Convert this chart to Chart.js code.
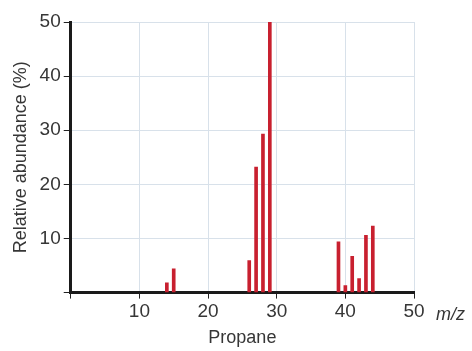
<!DOCTYPE html>
<html>
<head>
<meta charset="utf-8">
<script src="https://cdn.jsdelivr.net/npm/chart.js@4.4.1/dist/chart.umd.min.js"></script>
<style>
  html, body { margin: 0; padding: 0; background: #fff; }
  #wrap { width: 472px; height: 351px; position: relative; }
</style>
</head>
<body>
<div id="wrap"><canvas id="c" width="472" height="351"></canvas></div>
<script>
// Mass spectrum of propane: m/z positions and relative abundances (%)
const massToCharge = [14, 15, 26, 27, 28, 29, 39, 40, 41, 42, 43, 44];
const abundance    = [1.8, 4.4, 5.9, 23.2, 29.3, 50, 9.4, 1.3, 6.7, 2.6, 10.6, 12.3];
const xTicks = [10, 20, 30, 40, 50];
const yTicks = [10, 20, 30, 40, 50];

const family = "'Liberation Sans', Arial, sans-serif";
const tickFont = { family, size: 19 };
const titleFont = { family, size: 18 };
const textColor = '#363636';
const gridColor = '#d8e1ea';

// "m/z" label to the right of the x axis
const unitLabel = {
  id: 'unitLabel',
  afterDraw(chart) {
    const { ctx, scales: { x } } = chart;
    ctx.save();
    ctx.font = "italic 18px " + family;
    ctx.fillStyle = textColor;
    ctx.textBaseline = 'middle';
    ctx.textAlign = 'left';
    ctx.fillText('m/z', x.right + 22, x.top + 22);
    ctx.restore();
  }
};

new Chart(document.getElementById('c'), {
  type: 'bar',
  data: {
    datasets: [{
      data: massToCharge.map((m, i) => ({ x: m, y: abundance[i] })),
      backgroundColor: '#c8202f',
      borderWidth: 0,
      barThickness: 3
    }]
  },
  options: {
    responsive: false,
    animation: false,
    layout: { padding: { left: 10, right: 58, top: 22, bottom: 2 } },
    plugins: { legend: { display: false }, tooltip: { enabled: false } },
    scales: {
      x: {
        type: 'linear',
        min: 0, max: 50,
        offset: false,
        afterBuildTicks(axis) { axis.ticks = [0, ...xTicks].map(v => ({ value: v })); },
        ticks: {
          font: tickFont, color: textColor, padding: 2,
          callback: v => (v === 0 ? '' : v)
        },
        grid: { offset: false, color: gridColor, lineWidth: 1, tickColor: '#222', tickLength: 6 },
        border: { color: '#1a1a1a', width: 3 },
        title: { display: true, text: 'Propane', font: titleFont, color: textColor, padding: { top: 2, bottom: 0 } }
      },
      y: {
        min: 0, max: 50,
        afterBuildTicks(axis) { axis.ticks = [0, ...yTicks].map(v => ({ value: v })); },
        ticks: {
          font: tickFont, color: textColor, padding: 3,
          callback: v => (v === 0 ? '' : v)
        },
        grid: { color: gridColor, lineWidth: 1, tickColor: '#222', tickLength: 7 },
        border: { color: '#1a1a1a', width: 3 },
        title: { display: true, text: 'Relative abundance (%)', font: titleFont, color: textColor, padding: { top: 0, bottom: 5 } }
      }
    }
  },
  plugins: [unitLabel]
});
</script>
</body>
</html>
